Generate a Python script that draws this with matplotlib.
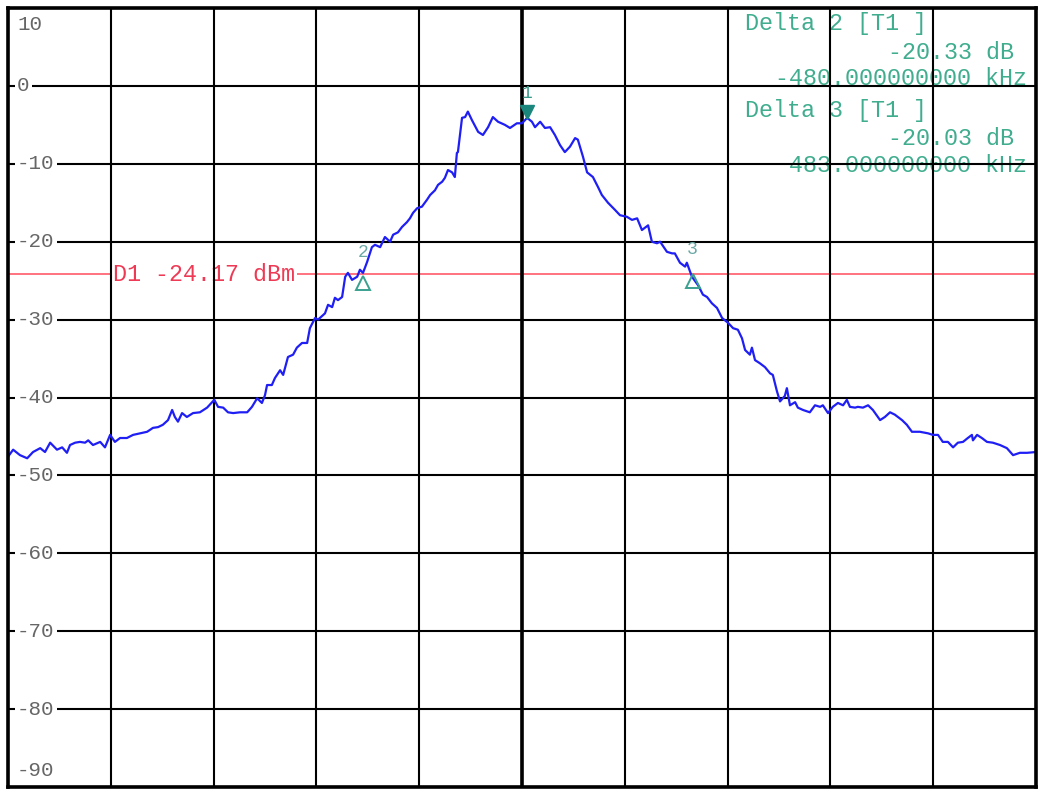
import matplotlib
matplotlib.use("Agg")
from matplotlib import pyplot as plt
from matplotlib.transforms import offset_copy

# spectrum trace: offset from centre frequency (kHz) and level (dBm)
freq_khz = [
    -1500, -1485, -1465, -1444, -1427, -1406, -1392, -1377, -1357, -1342,
    -1328, -1319, -1304, -1290, -1275, -1266, -1252, -1231, -1217, -1202,
    -1188, -1173, -1153, -1135, -1115, -1094, -1077, -1062, -1048, -1033,
    -1021, -1013, -1004, -992, -978, -960, -940, -919, -898, -887,
    -872, -858, -843, -823, -802, -788, -773, -759, -750, -744,
    -730, -721, -706, -697, -683, -668, -657, -642, -627, -619,
    -604, -595, -575, -566, -554, -546, -537, -525, -516, -508,
    -496, -481, -473, -464, -452, -438, -429, -414, -400, -385,
    -376, -362, -350, -336, -327, -318, -306, -292, -277, -268,
    -254, -245, -233, -225, -216, -204, -196, -190, -187, -175,
    -166, -158, -146, -128, -114, -99, -85, -70, -50, -35,
    -15, 0, 15, 29, 38, 53, 67, 82, 96, 111,
    125, 140, 155, 163, 178, 190, 207, 222, 233, 251,
    271, 286, 306, 321, 336, 350, 368, 379, 394, 403,
    423, 438, 446, 461, 476, 481, 496, 514, 528, 540,
    554, 569, 584, 601, 616, 630, 642, 651, 665, 671,
    680, 694, 709, 724, 732, 744, 753, 767, 773, 782,
    797, 805, 820, 840, 855, 870, 878, 893, 907, 922,
    937, 948, 957, 972, 980, 995, 1010, 1024, 1045, 1059,
    1074, 1088, 1109, 1123, 1138, 1161, 1185, 1199, 1214, 1228,
    1243, 1258, 1272, 1287, 1301, 1313, 1316, 1328, 1342, 1357,
    1374, 1395, 1415, 1433, 1453, 1474, 1500,
]
level_dbm = [
    -47.6, -46.7, -47.4, -47.8, -47.0, -46.5, -47.0, -45.8, -46.7, -46.4,
    -47.1, -46.1, -45.8, -45.7, -45.8, -45.5, -46.1, -45.7, -46.4, -44.8,
    -45.7, -45.2, -45.2, -44.8, -44.6, -44.4, -43.9, -43.8, -43.5, -42.9,
    -41.6, -42.5, -43.1, -42.0, -42.5, -42.0, -41.9, -41.3, -40.3, -41.2,
    -41.3, -41.9, -42.0, -41.9, -41.9, -41.2, -40.1, -40.7, -39.7, -38.4,
    -38.4, -37.5, -36.5, -37.1, -34.8, -34.5, -33.6, -33.0, -33.0, -31.1,
    -29.8, -30.0, -29.2, -28.1, -28.4, -27.2, -27.5, -27.1, -24.5, -24.0,
    -24.9, -24.5, -23.6, -24.0, -22.6, -20.7, -20.4, -20.7, -19.4, -20.0,
    -19.1, -18.8, -18.1, -17.5, -17.0, -16.3, -15.7, -15.5, -14.6, -14.0,
    -13.4, -12.7, -12.3, -11.8, -10.8, -11.1, -11.7, -8.6, -8.5, -4.1,
    -4.0, -3.3, -4.4, -5.9, -6.3, -5.3, -4.0, -4.6, -5.0, -5.4,
    -4.8, -4.8, -4.1, -4.6, -5.3, -4.6, -5.4, -5.3, -6.3, -7.6,
    -8.5, -7.8, -6.7, -6.9, -9.1, -11.1, -11.7, -13.0, -14.0, -15.0,
    -15.9, -16.6, -16.8, -17.2, -17.0, -18.5, -17.9, -20.0, -20.2, -20.0,
    -21.3, -21.5, -21.5, -22.7, -23.2, -22.7, -24.5, -25.6, -26.8, -27.1,
    -27.9, -28.5, -29.8, -30.4, -31.1, -31.3, -32.4, -33.9, -34.5, -33.6,
    -35.2, -35.6, -36.1, -36.9, -37.1, -39.2, -40.5, -39.8, -38.8, -41.0,
    -40.6, -41.3, -41.6, -41.9, -41.0, -41.2, -41.0, -42.0, -41.2, -40.7,
    -41.0, -40.3, -41.2, -41.3, -41.2, -41.3, -41.0, -41.6, -42.9, -42.5,
    -41.9, -42.2, -42.9, -43.5, -44.4, -44.4, -44.6, -44.8, -44.8, -45.7,
    -45.7, -46.4, -45.8, -45.7, -45.2, -44.8, -45.5, -44.8, -45.2, -45.7,
    -45.8, -46.1, -46.5, -47.4, -47.1, -47.1, -47.0,
]

# display line and markers
d1_level = -24.17
m1_freq, m1_level = 15, -4.1
delta_names = ["2", "3"]
delta_freq = [-480, 483]
delta_db = [-20.33, -20.03]

ytick_vals = [10, 0, -10, -20, -30, -40, -50, -60, -70, -80, -90]
xgrid_khz = list(range(-1500, 1501, 300))

MONO = "Liberation Mono"
TEAL = "#40ad8e"

fig = plt.figure(figsize=(10.39, 7.90), dpi=100)
ax = fig.add_axes([8 / 1039, 3 / 790, 1028 / 1039, 779 / 790])
ax.set_xlim(-1500, 1500)
ax.set_ylim(-90, 10)
ax.set_xticks(xgrid_khz)
ax.set_yticks(ytick_vals)
ax.tick_params(length=0, labelleft=False, labelbottom=False)
ax.grid(True, color="black", lw=1.5, zorder=2.5)
ax.set_axisbelow(False)
ax.axvline(0, color="black", lw=2.6, zorder=2.5)
for s in ax.spines.values():
    s.set_linewidth(2.6)
    s.set_zorder(6)

# y labels sit on the grid lines, the end ones pulled inside
for v in ytick_vals:
    dy = -16 if v == 10 else (16 if v == -90 else 0)
    ax.annotate(f"{v}", (0, v), xycoords=("axes fraction", "data"),
                xytext=(9, dy), textcoords="offset pixels",
                ha="left", va="center", fontsize=15, family=MONO,
                color="#666666", zorder=5,
                bbox=dict(boxstyle="square,pad=0.12", fc="white", ec="none"))

# display line D1
ax.axhline(d1_level, color="#ff5a68", lw=1.2, zorder=1.5)
ax.annotate(f"D1 {d1_level:.2f} dBm", (-1500, d1_level),
            xytext=(105, 0), textcoords="offset pixels",
            ha="left", va="center", fontsize=16.8, family=MONO,
            color="#ee3a55", zorder=1.8,
            bbox=dict(boxstyle="square,pad=0.1", fc="white", ec="none"))

# trace
ax.plot(freq_khz, level_dbm, color="#1f1ff5", lw=1.6, zorder=4)

# marker 1 (filled) and delta markers (open)
down = offset_copy(ax.transData, fig=fig, x=0, y=6, units="dots")
ax.plot([m1_freq], [m1_level], marker="v", ms=9.5, color="#1b877c",
        transform=down, zorder=5)
ax.annotate("1", (m1_freq, m1_level), xytext=(0, 24), textcoords="offset pixels",
            ha="center", va="center", fontsize=13, family=MONO, color="#3a9a8a",
            zorder=5)
up = offset_copy(ax.transData, fig=fig, x=0, y=-7, units="dots")
for name, df, dl in zip(delta_names, delta_freq, delta_db):
    f, l = m1_freq + df, m1_level + dl
    ax.plot([f], [l], marker="^", ms=9.5, mfc="none", mec="#3aa090", mew=1.4,
            transform=up, zorder=5)
    ax.annotate(name, (f, l), xytext=(0, 24), textcoords="offset pixels",
                ha="center", va="center", fontsize=13, family=MONO,
                color="#6aa8a4", zorder=5)

# delta marker readout, top right
for i, (name, df, dl) in enumerate(zip(delta_names, delta_freq, delta_db)):
    y0 = 0.9795 - i * 0.1105
    ax.text(0.717, y0, f"Delta {name} [T1 ]", transform=ax.transAxes,
            ha="left", va="center", fontsize=16.8, family=MONO, color=TEAL, zorder=2)
    ax.text(0.979, y0 - 0.036, f"{dl:.2f} dB", transform=ax.transAxes,
            ha="right", va="center", fontsize=16.8, family=MONO, color=TEAL, zorder=2)
    ax.text(0.991, y0 - 0.0706, f"{df:.9f} kHz", transform=ax.transAxes,
            ha="right", va="center", fontsize=16.8, family=MONO, color=TEAL, zorder=2)

fig.savefig("out.png", dpi=100, facecolor="white")
